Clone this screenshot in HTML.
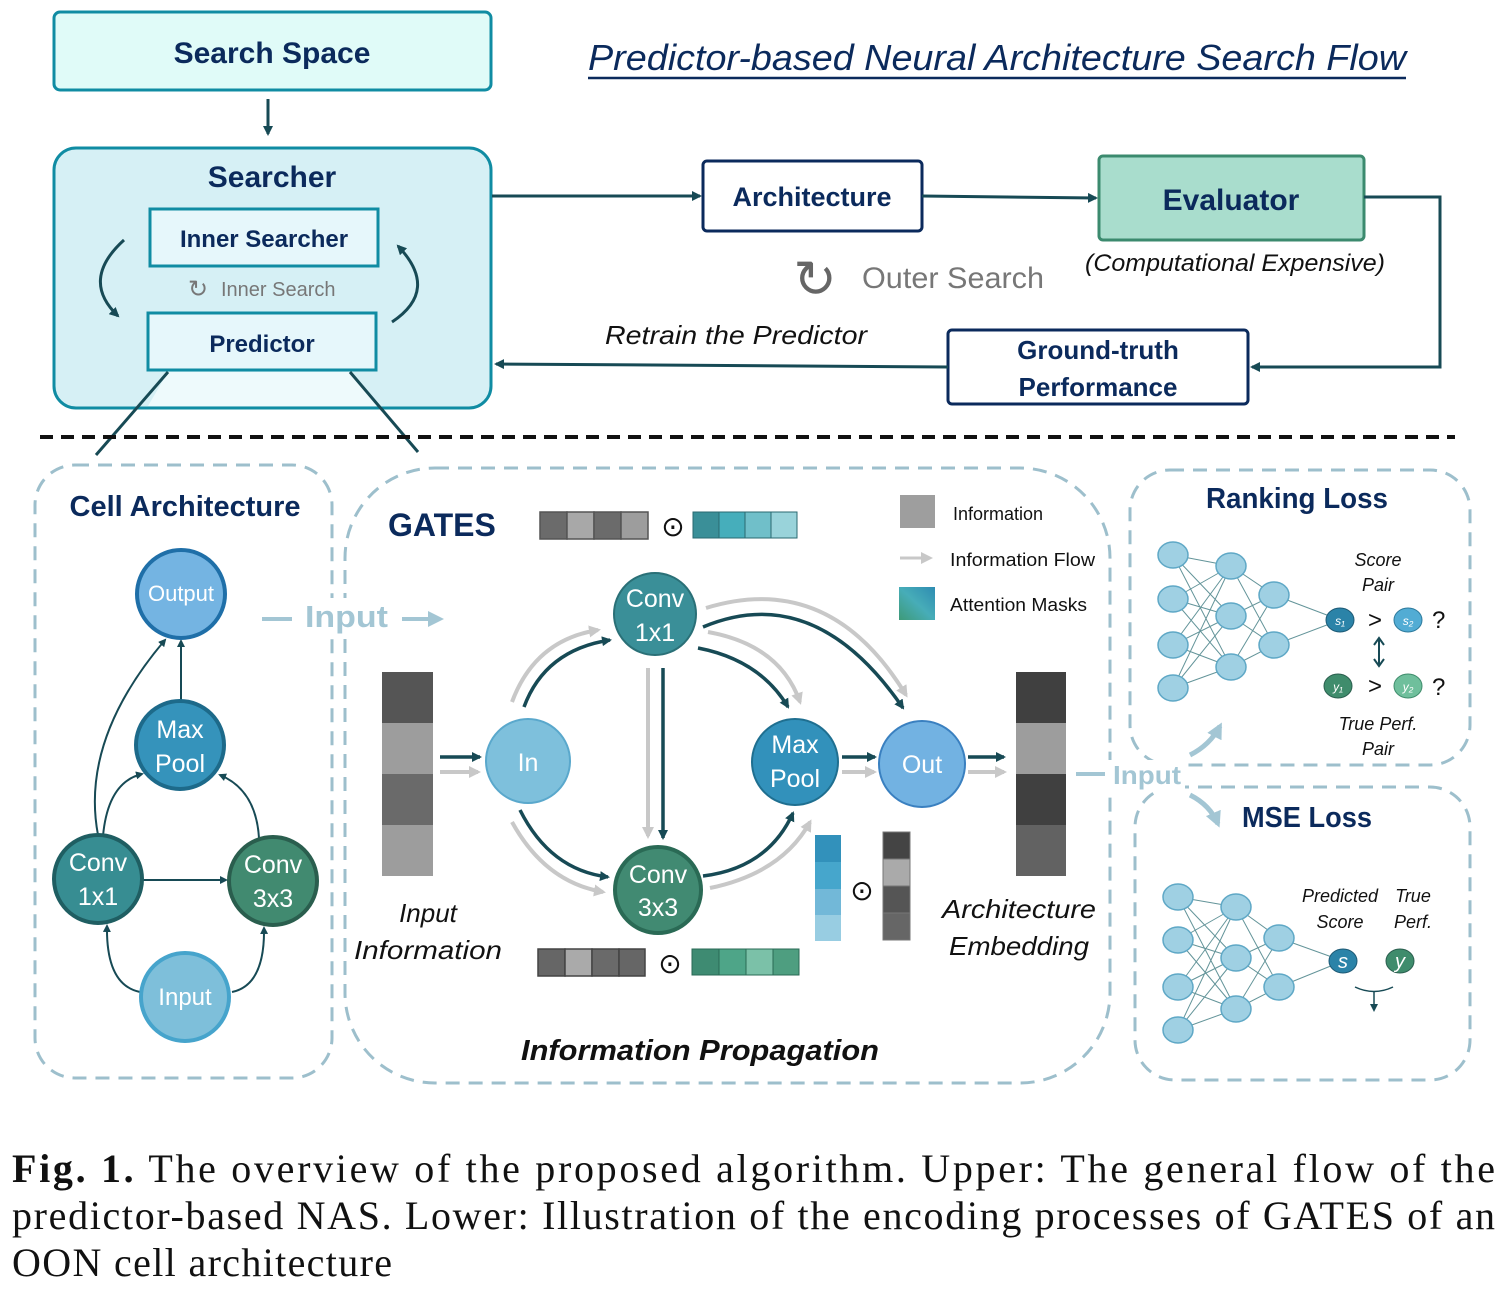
<!DOCTYPE html>
<html><head><meta charset="utf-8"><style>
html,body{margin:0;padding:0;background:#fff;}
svg{display:block;}
text{font-family:"Liberation Sans","DejaVu Sans",sans-serif;}
.cap{font-family:"Liberation Serif","DejaVu Serif",serif;font-size:40px;fill:#111;}
</style></head><body>
<svg width="1511" height="1289" viewBox="0 0 1511 1289" xmlns="http://www.w3.org/2000/svg">
<defs>
<marker id="ad" markerWidth="10" markerHeight="10" refX="8" refY="5" orient="auto" markerUnits="userSpaceOnUse"><path d="M0,0 L10,5 L0,10 z" fill="#174a55"/></marker>
<marker id="ag" markerWidth="12" markerHeight="12" refX="9" refY="6" orient="auto" markerUnits="userSpaceOnUse"><path d="M0,0 L12,6 L0,12 z" fill="#c8c8c8"/></marker>
<marker id="al" markerWidth="16" markerHeight="16" refX="12" refY="8" orient="auto" markerUnits="userSpaceOnUse"><path d="M0,0 L16,8 L0,16 z" fill="#a3c6d4"/></marker>
<marker id="as" markerWidth="8" markerHeight="8" refX="6" refY="4" orient="auto" markerUnits="userSpaceOnUse"><path d="M0,0 L8,4 L0,8 z" fill="#174a55"/></marker>
<linearGradient id="att" x1="0" y1="1" x2="1" y2="0"><stop offset="0" stop-color="#3e9a78"/><stop offset="0.5" stop-color="#47adb8"/><stop offset="1" stop-color="#2e8cb2"/></linearGradient>
</defs>

<!-- TOP -->
<rect x="54" y="12" width="437" height="78" rx="6" fill="#e0fbf8" stroke="#108ca3" stroke-width="3"/>
<text x="272" y="63" text-anchor="middle" font-size="30" font-weight="bold" fill="#0b2a5c">Search Space</text>
<line x1="268" y1="99" x2="268" y2="134" stroke="#174a55" stroke-width="3" marker-end="url(#ad)"/>

<rect x="54" y="148" width="437" height="260" rx="22" fill="#d6f0f5" stroke="#108ca3" stroke-width="3"/>
<polygon points="168,372 350,372 380,406 148,406" fill="#eefafc"/>
<text x="272" y="187" text-anchor="middle" font-size="30" font-weight="bold" fill="#0b2a5c">Searcher</text>
<rect x="150" y="209" width="228" height="57" fill="#e6f7fb" stroke="#108ca3" stroke-width="3"/>
<text x="264" y="247" text-anchor="middle" font-size="24" font-weight="bold" fill="#0b2a5c">Inner Searcher</text>
<text x="198" y="297" text-anchor="middle" font-size="24" fill="#777">↻</text>
<text x="221" y="296" font-size="20" fill="#777">Inner Search</text>
<rect x="148" y="313" width="228" height="57" fill="#e6f7fb" stroke="#108ca3" stroke-width="3"/>
<text x="262" y="352" text-anchor="middle" font-size="24" font-weight="bold" fill="#0b2a5c">Predictor</text>
<path d="M124,240 Q80,280 118,316" fill="none" stroke="#174a55" stroke-width="3" marker-end="url(#ad)"/>
<path d="M392,322 Q440,290 398,246" fill="none" stroke="#174a55" stroke-width="3" marker-end="url(#ad)"/>
<line x1="168" y1="372" x2="96" y2="455" stroke="#174a55" stroke-width="3"/>
<line x1="350" y1="372" x2="418" y2="452" stroke="#174a55" stroke-width="3"/>

<text x="588" y="70" font-size="36" font-style="italic" fill="#0b2a5c" textLength="818" lengthAdjust="spacingAndGlyphs">Predictor-based Neural Architecture Search Flow</text>
<line x1="588" y1="78" x2="1406" y2="78" stroke="#0b2a5c" stroke-width="2.5"/>

<line x1="492" y1="196" x2="700" y2="196" stroke="#174a55" stroke-width="3" marker-end="url(#ad)"/>
<rect x="703" y="161" width="219" height="70" rx="4" fill="#fff" stroke="#0b2a5c" stroke-width="3"/>
<text x="812" y="206" text-anchor="middle" font-size="27" font-weight="bold" fill="#0b2a5c">Architecture</text>
<line x1="922" y1="196" x2="1096" y2="198" stroke="#174a55" stroke-width="3" marker-end="url(#ad)"/>
<rect x="1099" y="156" width="265" height="84" rx="4" fill="#a9ddcd" stroke="#3b8a6e" stroke-width="3"/>
<text x="1231" y="210" text-anchor="middle" font-size="30" font-weight="bold" fill="#0b2a5c">Evaluator</text>
<text x="1235" y="271" text-anchor="middle" font-size="24" font-style="italic" fill="#111" textLength="300" lengthAdjust="spacingAndGlyphs">(Computational Expensive)</text>
<polyline points="1364,197 1440,197 1440,367 1252,367" fill="none" stroke="#174a55" stroke-width="3" marker-end="url(#ad)"/>
<rect x="948" y="330" width="300" height="74" rx="4" fill="#fff" stroke="#0b2a5c" stroke-width="3"/>
<text x="1098" y="359" text-anchor="middle" font-size="26" font-weight="bold" fill="#0b2a5c">Ground-truth</text>
<text x="1098" y="396" text-anchor="middle" font-size="26" font-weight="bold" fill="#0b2a5c">Performance</text>
<line x1="948" y1="367" x2="496" y2="364" stroke="#174a55" stroke-width="3" marker-end="url(#ad)"/>
<text x="736" y="344" text-anchor="middle" font-size="26" font-style="italic" fill="#111" textLength="262" lengthAdjust="spacingAndGlyphs">Retrain the Predictor</text>
<text x="815" y="297" text-anchor="middle" font-size="52" fill="#666">↻</text>
<text x="862" y="288" font-size="30" fill="#777" textLength="182" lengthAdjust="spacingAndGlyphs">Outer Search</text>

<line x1="40" y1="437" x2="1455" y2="437" stroke="#111" stroke-width="4" stroke-dasharray="13,8"/>

<!-- Cell architecture -->
<rect x="35" y="465" width="297" height="613" rx="40" fill="none" stroke="#9dbfcc" stroke-width="3" stroke-dasharray="14,9"/>
<text x="185" y="516" text-anchor="middle" font-size="29" font-weight="bold" fill="#0b2a5c">Cell Architecture</text>
<g fill="none" stroke="#174a55" stroke-width="2">
<line x1="181" y1="701" x2="181" y2="641" marker-end="url(#as)"/>
<path d="M98,835 Q80,740 165,640" marker-end="url(#as)"/>
<path d="M103,836 Q108,782 142,774" marker-end="url(#as)"/>
<path d="M259,838 Q256,790 220,775" marker-end="url(#as)"/>
<line x1="142" y1="880" x2="226" y2="880" marker-end="url(#as)"/>
<path d="M140,992 Q106,985 107,926" marker-end="url(#as)"/>
<path d="M232,992 Q265,985 264,928" marker-end="url(#as)"/>
</g>
<g font-size="22" fill="#fff" text-anchor="middle">
<circle cx="181" cy="594" r="44" fill="#74b4e2" stroke="#1f6fa8" stroke-width="4"/><text x="181" y="601">Output</text>
<circle cx="180" cy="745" r="44" fill="#3593bb" stroke="#1d6a8a" stroke-width="4"/><text x="180" y="738" font-size="25">Max</text><text x="180" y="772" font-size="25">Pool</text>
<circle cx="98" cy="879" r="44" fill="#378d92" stroke="#1f5e62" stroke-width="4"/><text x="98" y="871" font-size="25">Conv</text><text x="98" y="905" font-size="25">1x1</text>
<circle cx="273" cy="881" r="44" fill="#418a70" stroke="#2a5e4e" stroke-width="4"/><text x="273" y="873" font-size="25">Conv</text><text x="273" y="907" font-size="25">3x3</text>
<circle cx="185" cy="997" r="44" fill="#7ebfda" stroke="#46a4cc" stroke-width="4"/><text x="185" y="1005" font-size="24">Input</text>
</g>

<!-- GATES -->
<rect x="345" y="468" width="765" height="615" rx="90" fill="none" stroke="#9dbfcc" stroke-width="3" stroke-dasharray="14,9"/>
<rect x="300" y="598" width="95" height="38" fill="#fff"/>
<line x1="262" y1="619" x2="292" y2="619" stroke="#a3c6d4" stroke-width="4"/>
<text x="305" y="627" font-size="31" font-weight="bold" fill="#a3c6d4" textLength="83" lengthAdjust="spacingAndGlyphs">Input</text>
<line x1="402" y1="619" x2="440" y2="619" stroke="#a3c6d4" stroke-width="4" marker-end="url(#al)"/>
<text x="388" y="536" font-size="32" font-weight="bold" fill="#0b2a5c">GATES</text>
<g stroke="#555" stroke-width="1.5">
<rect x="540" y="512" width="27" height="27" fill="#6b6b6b"/><rect x="567" y="512" width="27" height="27" fill="#a8a8a8"/><rect x="594" y="512" width="27" height="27" fill="#6b6b6b"/><rect x="621" y="512" width="27" height="27" fill="#9d9d9d"/>
</g>
<text x="673" y="536" text-anchor="middle" font-size="28" fill="#111">⊙</text>
<g stroke="#2a6a70" stroke-width="1">
<rect x="693" y="512" width="26" height="26" fill="#3a8f98"/><rect x="719" y="512" width="26" height="26" fill="#46aebb"/><rect x="745" y="512" width="26" height="26" fill="#70bfc9"/><rect x="771" y="512" width="26" height="26" fill="#99d3da"/>
</g>
<rect x="900" y="495" width="35" height="33" fill="#9e9e9e"/>
<text x="953" y="520" font-size="18" fill="#111">Information</text>
<line x1="900" y1="558" x2="930" y2="558" stroke="#c8c8c8" stroke-width="3" marker-end="url(#ag)"/>
<text x="950" y="566" font-size="18" fill="#111" textLength="145" lengthAdjust="spacingAndGlyphs">Information Flow</text>
<rect x="899" y="587" width="36" height="33" fill="url(#att)"/>
<text x="950" y="611" font-size="18" fill="#111" textLength="137" lengthAdjust="spacingAndGlyphs">Attention Masks</text>

<!-- bars -->
<rect x="382" y="672" width="51" height="51" fill="#555"/><rect x="382" y="723" width="51" height="51" fill="#9d9d9d"/><rect x="382" y="774" width="51" height="51" fill="#6a6a6a"/><rect x="382" y="825" width="51" height="51" fill="#9d9d9d"/>
<rect x="1016" y="672" width="50" height="51" fill="#404040"/><rect x="1016" y="723" width="50" height="51" fill="#9d9d9d"/><rect x="1016" y="774" width="50" height="51" fill="#404040"/><rect x="1016" y="825" width="50" height="51" fill="#626262"/>
<rect x="815" y="835" width="26" height="27" fill="#3291bb"/><rect x="815" y="862" width="26" height="27" fill="#46a6cc"/><rect x="815" y="889" width="26" height="26" fill="#72b8d8"/><rect x="815" y="915" width="26" height="26" fill="#98cde2"/>
<text x="862" y="900" text-anchor="middle" font-size="28" fill="#111">⊙</text>
<g stroke="#777" stroke-width="1"><rect x="883" y="832" width="27" height="27" fill="#444"/><rect x="883" y="859" width="27" height="27" fill="#aaa"/><rect x="883" y="886" width="27" height="27" fill="#555"/><rect x="883" y="913" width="27" height="27" fill="#666"/></g>
<g stroke="#444" stroke-width="1.5"><rect x="538" y="949" width="27" height="27" fill="#666"/><rect x="565" y="949" width="27" height="27" fill="#aaa"/><rect x="592" y="949" width="27" height="27" fill="#6a6a6a"/><rect x="619" y="949" width="26" height="27" fill="#666"/></g>
<text x="670" y="973" text-anchor="middle" font-size="28" fill="#111">⊙</text>
<g stroke="#2a6a55" stroke-width="1"><rect x="692" y="949" width="27" height="26" fill="#3e8b72"/><rect x="719" y="949" width="27" height="26" fill="#4ea588"/><rect x="746" y="949" width="27" height="26" fill="#7bc1a8"/><rect x="773" y="949" width="26" height="26" fill="#4e9e80"/></g>

<!-- gray flows -->
<g fill="none" stroke="#c8c8c8" stroke-width="4" marker-end="url(#ag)">
<line x1="440" y1="772" x2="478" y2="772"/>
<line x1="842" y1="772" x2="874" y2="772"/>
<line x1="968" y1="772" x2="1004" y2="772"/>
<path d="M512,702 Q535,640 598,630"/>
<line x1="648" y1="668" x2="648" y2="836"/>
<path d="M706,608 Q830,570 906,695"/>
<path d="M708,632 Q780,645 800,702"/>
<path d="M512,822 Q545,882 603,892"/>
<path d="M710,888 Q782,873 810,822"/>
</g>
<!-- dark flows -->
<g fill="none" stroke="#174a55" stroke-width="3.5" marker-end="url(#ad)">
<line x1="440" y1="757" x2="480" y2="757"/>
<line x1="842" y1="757" x2="875" y2="757"/>
<line x1="968" y1="757" x2="1004" y2="757"/>
<path d="M524,707 Q545,650 610,640"/>
<line x1="663" y1="668" x2="663" y2="838"/>
<path d="M703,627 Q815,580 903,708"/>
<path d="M698,648 Q760,660 788,707"/>
<path d="M520,810 Q550,870 608,877"/>
<path d="M703,876 Q768,868 793,813"/>
</g>
<g fill="#fff" text-anchor="middle" font-size="25">
<circle cx="655" cy="614" r="41" fill="#3a8f98" stroke="#2a7077" stroke-width="2"/><text x="655" y="607">Conv</text><text x="655" y="641">1x1</text>
<circle cx="528" cy="761" r="42" fill="#7ec0dc" stroke="#5aa8cc" stroke-width="2"/><text x="528" y="771">In</text>
<circle cx="795" cy="762" r="43" fill="#3291bb" stroke="#1f6f90" stroke-width="2"/><text x="795" y="753">Max</text><text x="795" y="787">Pool</text>
<circle cx="922" cy="764" r="43" fill="#72b2e2" stroke="#3a80c0" stroke-width="2"/><text x="922" y="773">Out</text>
<circle cx="658" cy="890" r="43" fill="#418a72" stroke="#2a6a55" stroke-width="4"/><text x="658" y="883">Conv</text><text x="658" y="916">3x3</text>
</g>
<g font-size="26" font-style="italic" fill="#111" text-anchor="middle">
<text x="428" y="922">Input</text><text x="428" y="959" textLength="148" lengthAdjust="spacingAndGlyphs">Information</text>
<text x="1019" y="918" textLength="154" lengthAdjust="spacingAndGlyphs">Architecture</text><text x="1019" y="955" textLength="140" lengthAdjust="spacingAndGlyphs">Embedding</text>
</g>
<text x="700" y="1060" text-anchor="middle" font-size="29" font-weight="bold" font-style="italic" fill="#111" textLength="358" lengthAdjust="spacingAndGlyphs">Information Propagation</text>

<!-- Ranking / MSE -->
<rect x="1130" y="470" width="340" height="295" rx="40" fill="none" stroke="#9dbfcc" stroke-width="3" stroke-dasharray="14,9"/>
<rect x="1135" y="787" width="335" height="293" rx="40" fill="none" stroke="#9dbfcc" stroke-width="3" stroke-dasharray="14,9"/>
<rect x="1105" y="760" width="80" height="32" fill="#fff"/>
<text x="1297" y="508" text-anchor="middle" font-size="29" font-weight="bold" fill="#0b2a5c" textLength="182" lengthAdjust="spacingAndGlyphs">Ranking Loss</text>
<text x="1307" y="827" text-anchor="middle" font-size="29" font-weight="bold" fill="#0b2a5c" textLength="130" lengthAdjust="spacingAndGlyphs">MSE Loss</text>
<line x1="1076" y1="774" x2="1105" y2="774" stroke="#a3c6d4" stroke-width="4"/>
<text x="1113" y="784" font-size="26" font-weight="bold" fill="#a3c6d4" textLength="68" lengthAdjust="spacingAndGlyphs">Input</text>
<path d="M1190,755 Q1210,745 1220,726" fill="none" stroke="#a3c6d4" stroke-width="5" marker-end="url(#al)"/>
<path d="M1190,795 Q1210,805 1218,824" fill="none" stroke="#a3c6d4" stroke-width="5" marker-end="url(#al)"/>

<g stroke="#3d7a80" stroke-width="1" opacity="0.8">
<path d="M1173,555 L1231,566 M1173,555 L1231,616 M1173,555 L1231,667 M1173,599 L1231,566 M1173,599 L1231,616 M1173,599 L1231,667 M1173,645 L1231,566 M1173,645 L1231,616 M1173,645 L1231,667 M1173,688 L1231,566 M1173,688 L1231,616 M1173,688 L1231,667 M1231,566 L1274,595 M1231,566 L1274,645 M1231,616 L1274,595 M1231,616 L1274,645 M1231,667 L1274,595 M1231,667 L1274,645 M1274,595 L1340,620 M1274,645 L1340,620"/>
<path d="M1178,897 L1236,907 M1178,897 L1236,958 M1178,897 L1236,1009 M1178,940 L1236,907 M1178,940 L1236,958 M1178,940 L1236,1009 M1178,987 L1236,907 M1178,987 L1236,958 M1178,987 L1236,1009 M1178,1030 L1236,907 M1178,1030 L1236,958 M1178,1030 L1236,1009 M1236,907 L1279,938 M1236,907 L1279,987 M1236,958 L1279,938 M1236,958 L1279,987 M1236,1009 L1279,938 M1236,1009 L1279,987 M1279,938 L1343,961 M1279,987 L1343,961"/>
</g>
<g fill="#9fd0e3" stroke="#5fa8c6" stroke-width="1.5">
<ellipse cx="1173" cy="555" rx="15" ry="13"/><ellipse cx="1173" cy="599" rx="15" ry="13"/><ellipse cx="1173" cy="645" rx="15" ry="13"/><ellipse cx="1173" cy="688" rx="15" ry="13"/>
<ellipse cx="1231" cy="566" rx="15" ry="13"/><ellipse cx="1231" cy="616" rx="15" ry="13"/><ellipse cx="1231" cy="667" rx="15" ry="13"/>
<ellipse cx="1274" cy="595" rx="15" ry="13"/><ellipse cx="1274" cy="645" rx="15" ry="13"/>
<ellipse cx="1178" cy="897" rx="15" ry="13"/><ellipse cx="1178" cy="940" rx="15" ry="13"/><ellipse cx="1178" cy="987" rx="15" ry="13"/><ellipse cx="1178" cy="1030" rx="15" ry="13"/>
<ellipse cx="1236" cy="907" rx="15" ry="13"/><ellipse cx="1236" cy="958" rx="15" ry="13"/><ellipse cx="1236" cy="1009" rx="15" ry="13"/>
<ellipse cx="1279" cy="938" rx="15" ry="13"/><ellipse cx="1279" cy="987" rx="15" ry="13"/>
</g>
<g font-family="Liberation Serif,serif" font-style="italic" fill="#fff" text-anchor="middle">
<ellipse cx="1340" cy="620" rx="14" ry="12" fill="#2b83a8" stroke="#1d5a75"/><text x="1340" y="625" font-size="12">s₁</text>
<ellipse cx="1408" cy="620" rx="14" ry="12" fill="#52acd4" stroke="#2d7a9c"/><text x="1408" y="625" font-size="12">s₂</text>
<ellipse cx="1338" cy="686" rx="14" ry="12" fill="#3f8c6c" stroke="#2a5e4e"/><text x="1338" y="691" font-size="12">y₁</text>
<ellipse cx="1408" cy="686" rx="14" ry="12" fill="#6fbf9c" stroke="#3f8c6c"/><text x="1408" y="691" font-size="12">y₂</text>
<ellipse cx="1343" cy="961" rx="14" ry="12" fill="#2b83a8" stroke="#1d5a75"/><text x="1343" y="968" font-size="20">s</text>
<ellipse cx="1400" cy="961" rx="14" ry="12" fill="#3f8c6c" stroke="#2a5e4e"/><text x="1400" y="968" font-size="20">y</text>
</g>
<g fill="#111" font-size="24"><text x="1368" y="628">&gt;</text><text x="1368" y="694">&gt;</text><text x="1432" y="628">?</text><text x="1432" y="695">?</text></g>
<line x1="1379" y1="640" x2="1379" y2="664" stroke="#174a55" stroke-width="2"/>
<path d="M1374,645 L1379,638 L1384,645 M1374,659 L1379,666 L1384,659" fill="none" stroke="#174a55" stroke-width="2"/>
<g font-size="18" font-style="italic" fill="#111" text-anchor="middle">
<text x="1378" y="566">Score</text><text x="1378" y="591">Pair</text>
<text x="1378" y="730">True Perf.</text><text x="1378" y="755">Pair</text>
<text x="1340" y="902">Predicted</text><text x="1340" y="928">Score</text>
<text x="1413" y="902">True</text><text x="1413" y="928">Perf.</text>
</g>
<path d="M1355,987 Q1374,996 1393,987" fill="none" stroke="#174a55" stroke-width="1.5"/>
<line x1="1374" y1="992" x2="1374" y2="1010" stroke="#174a55" stroke-width="1.5" marker-end="url(#as)"/>

<!-- caption -->
<text class="cap" x="12" y="1182" textLength="1483" lengthAdjust="spacing"><tspan font-weight="bold">Fig. 1.</tspan> The overview of the proposed algorithm. Upper: The general flow of the</text>
<text class="cap" x="12" y="1229" textLength="1483" lengthAdjust="spacing">predictor-based NAS. Lower: Illustration of the encoding processes of GATES of an</text>
<text class="cap" x="12" y="1276" textLength="380" lengthAdjust="spacing">OON cell architecture</text>
</svg>
</body></html>
